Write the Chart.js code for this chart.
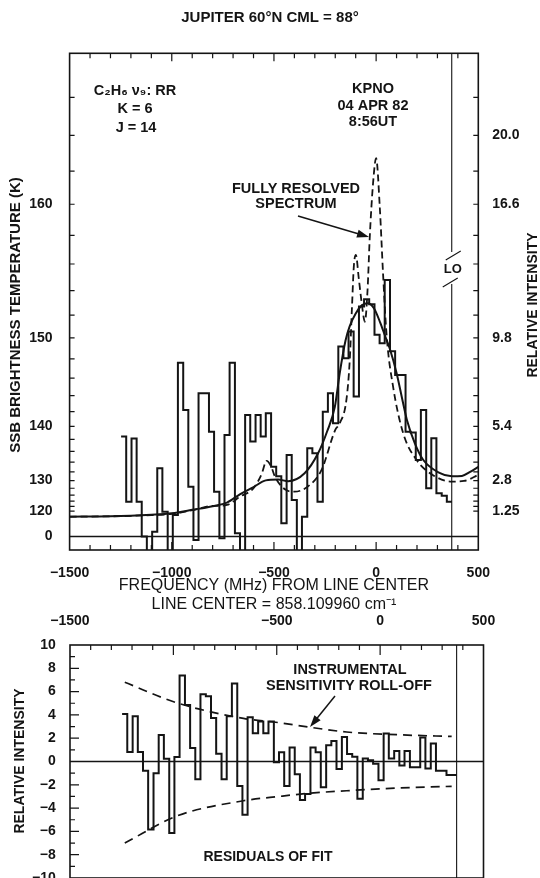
<!DOCTYPE html>
<html>
<head>
<meta charset="utf-8">
<script src="https://cdn.jsdelivr.net/npm/chart.js@4/dist/chart.umd.min.js"></script>
<style>
  html, body { margin: 0; padding: 0; background: #fff; width: 540px; height: 878px; overflow: hidden; }
  canvas { position: absolute; left: 0; }
  #spectrum { top: 0; }
  #residuals { top: 600px; }
</style>
</head>
<body>
<canvas id="spectrum" width="540" height="620"></canvas>
<canvas id="residuals" width="540" height="300"></canvas>
<script>
// filterbank channel edges (MHz from line center), last entry closes the last channel
var channelEdgesMHz = [-1248, -1223, -1197, -1172, -1147, -1122, -1096, -1071, -1046, -1020,
  -995, -970, -944, -919, -894, -869, -843, -818, -793, -767,
  -742, -717, -691, -666, -641, -616, -590, -565, -540, -514,
  -489, -464, -438, -413, -388, -363, -337, -312, -287, -261,
  -236, -211, -185, -160, -135, -110, -84, -59, -34, -8,
  17, 42, 68, 93, 118, 144, 169, 194, 219, 245,
  270, 295, 321, 346, 371];

// observed spectrum, relative intensity per channel
var observedI = [4.95, 1.72, 4.85, 1.72, 0.0, -1.5, 0.24, 3.38, 1.23, -1.5,
  1.07, 8.61, 6.27, 2.47, -0.17, 7.10, 7.10, 5.19, 2.22, -0.09,
  5.03, 8.61, 0.16, -1.5, 6.02, 4.70, 6.02, 4.95, 6.10, 3.46,
  2.98, 0.65, 4.04, 1.81, -1.5, 0.98, 4.37, 4.12, 1.72, 6.18,
  7.10, 5.61, 9.41, 8.83, 10.15, 6.93, 11.39, 11.75, 11.5, 9.99,
  9.57, 12.71, 9.18, 8.00, 8.00, 5.19, 5.15, 3.79, 6.27, 2.39,
  4.87, 2.14, 2.02, 1.72];

// residuals of fit per channel
var residualI = [4.08, 0.81, 3.88, 0.81, -0.79, -5.84, -1.0, 2.27, 0.23, -6.13,
  0.38, 7.38, 4.84, 1.16, -1.52, 5.77, 5.6, 3.73, 0.66, -1.52,
  3.88, 6.7, -2.1, -4.58, 3.79, 2.42, 3.44, 2.42, 3.44, -0.06,
  0.8, -2.1, 1.2, -1.1, -3.3, -2.8, 1.2, 0.8, -2.2, 1.4,
  1.75, -0.65, 2.1, 0.65, 0.4, -3.2, 0.25, 0.1, -0.2, -1.6,
  2.4, 0.25, 0.9, -0.35, 0.9, -0.5, -0.5, 2.05, -0.6, 1.55,
  -0.8, -0.8, -1.15, -1.15];

// model fit convolved with filters (solid)
var fitMHz = [-1500, -1300, -1100, -1000, -900, -800, -730, -665, -600, -540,
  -480, -430, -350, -284, -240, -202, -178, -150, -130, -100,
  -70, -40, -10, 20, 45, 67, 100, 130, 150, 190,
  230, 310, 370, 420, 460, 500];
var fitI = [0.98, 1.0, 1.08, 1.15, 1.32, 1.5, 1.68, 2.1, 2.45, 2.78,
  2.82, 2.74, 3.13, 4.12, 5.2, 6.43, 8.1, 9.7, 10.4, 11.05,
  11.45, 11.56, 11.3, 10.6, 9.9, 9.3, 8.1, 6.7, 5.8, 4.6,
  3.8, 3.15, 2.98, 3.0, 3.2, 3.45];

// fully resolved spectrum (dashed)
var resolvedMHz = [-1500, -1300, -1100, -1000, -900, -815, -780, -730, -667, -600,
  -560, -536, -515, -495, -440, -400, -335, -267, -200, -178,
  -145, -129, -118, -109, -99, -85, -71, -55, -42, -31,
  -15, 0, 18, 34, 51, 83, 132, 198, 277, 369,
  430, 500];
var resolvedI = [0.98, 1.0, 1.06, 1.12, 1.3, 1.5, 1.52, 1.56, 1.97, 2.39,
  3.1, 3.75, 3.5, 2.96, 2.3, 2.22, 2.47, 3.3, 5.28, 5.61,
  6.8, 8.75, 11.4, 13.4, 13.95, 12.8, 11.6, 10.64, 12.2, 14.86,
  17.5, 18.74, 16.3, 13.0, 10.0, 7.42, 5.13, 3.79, 3.05, 2.72,
  2.75, 3.05];

// instrumental sensitivity roll-off envelope
var rollOffMHz = [-1235, -984, -661, -484, -339, -162, 80, 346];
var rollOffUpper = [6.80, 5.04, 3.70, 3.32, 2.94, 2.53, 2.30, 2.15];
var rollOffLower = [-7.0, -4.68, -3.37, -2.99, -2.72, -2.51, -2.28, -2.13];

// brightness temperature ticks and their relative intensity
var tempTicksK = [120, 122, 124, 126, 128, 130, 132, 134, 136, 138, 140, 142,
  144, 146, 148, 150, 152, 154, 156, 158, 160, 162, 164, 166];
var tempTicksI = [1.26, 1.49, 1.75, 2.05, 2.39, 2.77, 3.20, 3.68, 4.22, 4.81, 5.46, 6.19,
  6.98, 7.85, 8.80, 9.84, 10.97, 12.18, 13.50, 14.92, 16.46, 18.10, 19.87, 21.76];
var leftLabelK = [120, 130, 140, 150, 160];
var rightLabelK = [120, 130, 140, 150, 160, 164];
var rightLabelText = ['1.25', '2.8', '5.4', '9.8', '16.6', '20.0'];

var freqTicks = [-1500, -1000, -500, 0, 500];
var freqTickLabels = ['\u22121500', '\u22121000', '\u2212500', '0', '500'];
var residFreqTicks = [-1500, -500, 0, 500];
var residFreqLabels = ['\u22121500', '\u2212500', '0', '500'];
var residTicks = [-10, -8, -6, -4, -2, 0, 2, 4, 6, 8, 10];

var loMHz = 370;

var ink = '#141414';
var family = "'Liberation Sans', Arial, sans-serif";
function bold(size) { return 'bold ' + size + 'px ' + family; }

Chart.defaults.font.family = family;
Chart.defaults.color = ink;

function pts(xs, ys) {
  return xs.map(function(v, i) { return {x: v, y: ys[Math.min(i, ys.length - 1)]}; });
}

function text(ctx, str, x, y, font) {
  ctx.font = font;
  ctx.textAlign = 'center';
  ctx.textBaseline = 'middle';
  ctx.fillText(str, x, y);
}

function vText(ctx, str, x, y, font) {
  ctx.save();
  ctx.translate(x, y);
  ctx.rotate(-Math.PI / 2);
  text(ctx, str, 0, 0, font);
  ctx.restore();
}

function arrow(ctx, x0, y0, x1, y1) {
  var ang = Math.atan2(y1 - y0, x1 - x0), L = 12, W = 4;
  ctx.lineWidth = 1.5;
  ctx.beginPath();
  ctx.moveTo(x0, y0);
  ctx.lineTo(x1 - L * Math.cos(ang) * 0.8, y1 - L * Math.sin(ang) * 0.8);
  ctx.stroke();
  ctx.beginPath();
  ctx.moveTo(x1, y1);
  ctx.lineTo(x1 - L * Math.cos(ang) + W * Math.sin(ang), y1 - L * Math.sin(ang) - W * Math.cos(ang));
  ctx.lineTo(x1 - L * Math.cos(ang) - W * Math.sin(ang), y1 - L * Math.sin(ang) + W * Math.cos(ang));
  ctx.closePath();
  ctx.fill();
}

var spectrumDecor = {
  id: 'spectrumDecor',
  afterDraw: function(chart) {
    var ctx = chart.ctx, a = chart.chartArea, x = chart.scales.x, y = chart.scales.y;
    ctx.save();
    ctx.strokeStyle = ink;
    ctx.fillStyle = ink;

    // inward tick marks
    ctx.lineWidth = 1.2;
    ctx.beginPath();
    for (var f = -1400; f <= 400; f += 100) {
      var px = x.getPixelForValue(f), len = f % 500 === 0 ? 8 : 5;
      ctx.moveTo(px, a.bottom); ctx.lineTo(px, a.bottom - len);
      ctx.moveTo(px, a.top); ctx.lineTo(px, a.top + len);
    }
    tempTicksI.forEach(function(v) {
      var py = y.getPixelForValue(v);
      ctx.moveTo(a.left, py); ctx.lineTo(a.left + 5, py);
      ctx.moveTo(a.right, py); ctx.lineTo(a.right - 5, py);
    });
    ctx.stroke();

    // frame
    ctx.lineWidth = 1.6;
    ctx.strokeRect(a.left, a.top, a.right - a.left, a.bottom - a.top);

    // LO marker, broken around its label
    var lx = x.getPixelForValue(loMHz);
    ctx.lineWidth = 1.1;
    ctx.beginPath();
    ctx.moveTo(lx, a.top); ctx.lineTo(lx, 252);
    ctx.moveTo(lx, 284); ctx.lineTo(lx, a.bottom);
    ctx.moveTo(lx - 6, 260); ctx.lineTo(lx + 9, 251);
    ctx.moveTo(lx - 9, 287); ctx.lineTo(lx + 6, 278);
    ctx.stroke();
    text(ctx, 'LO', lx + 1, 269, bold(13));

    // title and annotations
    text(ctx, 'JUPITER 60\u00b0N CML = 88\u00b0', 270, 18, bold(15));
    text(ctx, 'C\u2082H\u2086 \u03bd\u2089: RR', 135, 91, bold(14.5));
    text(ctx, 'K = 6', 135, 109, bold(14.5));
    text(ctx, 'J = 14', 136, 128, bold(14.5));
    text(ctx, 'KPNO', 373, 89, bold(14.5));
    text(ctx, '04 APR 82', 373, 106, bold(14.5));
    text(ctx, '8:56UT', 373, 122, bold(14.5));
    text(ctx, 'FULLY RESOLVED', 296, 189, bold(14.5));
    text(ctx, 'SPECTRUM', 296, 204, bold(14.5));
    arrow(ctx, 298, 216, 369, 237);

    // axis titles
    vText(ctx, 'SSB BRIGHTNESS TEMPERATURE (K)', 16, 315, bold(15));
    vText(ctx, 'RELATIVE INTENSITY', 533, 305, bold(14));
    ctx.restore();
  }
};

var residDecor = {
  id: 'residDecor',
  afterDraw: function(chart) {
    var ctx = chart.ctx, a = chart.chartArea, x = chart.scales.x, y = chart.scales.y;
    ctx.save();
    ctx.strokeStyle = ink;
    ctx.fillStyle = ink;

    ctx.lineWidth = 1.2;
    ctx.beginPath();
    for (var f = -1400; f <= 400; f += 100) {
      var px = x.getPixelForValue(f), len = f % 500 === 0 ? 10 : 5;
      ctx.moveTo(px, a.top); ctx.lineTo(px, a.top + len);
    }
    for (var r = -9; r <= 9; r++) {
      var py = y.getPixelForValue(r), l2 = r % 2 === 0 ? 9 : 5;
      ctx.moveTo(a.left, py); ctx.lineTo(a.left + l2, py);
    }
    ctx.stroke();

    ctx.lineWidth = 1.6;
    ctx.strokeRect(a.left, a.top, a.right - a.left, a.bottom - a.top);

    var lx = x.getPixelForValue(loMHz);
    ctx.lineWidth = 1.1;
    ctx.beginPath();
    ctx.moveTo(lx, a.top); ctx.lineTo(lx, a.bottom);
    ctx.stroke();

    text(ctx, 'INSTRUMENTAL', 350, 70, bold(14.5));
    text(ctx, 'SENSITIVITY ROLL-OFF', 349, 86, bold(14.5));
    arrow(ctx, 335, 96, 310, 127);
    text(ctx, 'RESIDUALS OF FIT', 268, 257, bold(14));
    vText(ctx, 'RELATIVE INTENSITY', 20, 161, bold(14));
    ctx.restore();
  }
};

var line = function(extra) {
  return Object.assign({borderColor: ink, borderWidth: 2, pointRadius: 0, fill: false}, extra);
};

new Chart(document.getElementById('spectrum'), {
  type: 'line',
  data: {
    datasets: [
      line({label: 'baseline', data: pts([-1500, 500], [0, 0]), borderWidth: 1.3}),
      line({label: 'fit', data: pts(fitMHz, fitI), cubicInterpolationMode: 'monotone'}),
      line({label: 'fully resolved', data: pts(resolvedMHz, resolvedI), cubicInterpolationMode: 'monotone',
            borderDash: [7, 4], borderWidth: 1.8}),
      line({label: 'observed', data: pts(channelEdgesMHz, observedI), stepped: 'before', borderWidth: 2})
    ]
  },
  options: {
    responsive: false,
    animation: false,
    layout: {padding: {top: 53.3, left: 0, right: 0, bottom: 0}},
    plugins: {legend: {display: false}, tooltip: {enabled: false}},
    scales: {
      x: {
        type: 'linear', min: -1500, max: 500,
        grid: {display: false}, border: {display: false},
        afterBuildTicks: function(s) { s.ticks = freqTicks.map(function(v) { return {value: v}; }); },
        afterFit: function(s) { s.height = 70; },
        ticks: {autoSkip: false, maxRotation: 0, padding: 6.6, font: {size: 14, weight: 'bold'},
                callback: function(v, i) { return freqTickLabels[i]; }},
        title: {display: true, text: ['FREQUENCY (MHz) FROM LINE CENTER', 'LINE CENTER = 858.109960 cm\u207b\u00b9'],
                font: {size: 16}, padding: {top: 0, bottom: 6}}
      },
      y: {
        position: 'left', min: -0.67, max: 23.94,
        grid: {display: false}, border: {display: false},
        afterBuildTicks: function(s) {
          s.ticks = [{value: 0}].concat(tempTicksI.map(function(v) { return {value: v}; }));
        },
        afterFit: function(s) { s.width = 69.6; },
        ticks: {autoSkip: false, padding: 9, font: {size: 14, weight: 'bold'},
                callback: function(v, i) {
                  if (i === 0) return '0';
                  var k = tempTicksK[i - 1];
                  return leftLabelK.indexOf(k) >= 0 ? String(k) : '';
                }}
      },
      y2: {
        position: 'right', min: -0.67, max: 23.94,
        grid: {display: false}, border: {display: false},
        afterBuildTicks: function(s) { s.ticks = tempTicksI.map(function(v) { return {value: v}; }); },
        afterFit: function(s) { s.width = 61.7; },
        ticks: {autoSkip: false, padding: 6, font: {size: 14, weight: 'bold'},
                callback: function(v, i) {
                  var j = rightLabelK.indexOf(tempTicksK[i]);
                  return j >= 0 ? rightLabelText[j] : '';
                }}
      }
    }
  },
  plugins: [spectrumDecor]
});

new Chart(document.getElementById('residuals'), {
  type: 'line',
  data: {
    datasets: [
      line({label: 'zero', data: pts([-1500, 500], [0, 0]), borderWidth: 1.3}),
      line({label: 'roll-off +', data: pts(rollOffMHz, rollOffUpper), cubicInterpolationMode: 'monotone',
            borderDash: [9, 6], borderWidth: 1.7}),
      line({label: 'roll-off -', data: pts(rollOffMHz, rollOffLower), cubicInterpolationMode: 'monotone',
            borderDash: [9, 6], borderWidth: 1.7}),
      line({label: 'residuals', data: pts(channelEdgesMHz, residualI), stepped: 'before', borderWidth: 2})
    ]
  },
  options: {
    responsive: false,
    animation: false,
    layout: {padding: {top: 0, left: 0, right: 56.5, bottom: 22}},
    plugins: {legend: {display: false}, tooltip: {enabled: false}},
    scales: {
      x: {
        type: 'linear', position: 'top', min: -1500, max: 500,
        grid: {display: false}, border: {display: false},
        afterBuildTicks: function(s) { s.ticks = residFreqTicks.map(function(v) { return {value: v}; }); },
        afterFit: function(s) { s.height = 45; },
        ticks: {autoSkip: false, maxRotation: 0, padding: 7.6, font: {size: 14, weight: 'bold'},
                callback: function(v, i) { return residFreqLabels[i]; }}
      },
      y: {
        position: 'left', min: -10, max: 10,
        grid: {display: false}, border: {display: false},
        afterBuildTicks: function(s) { s.ticks = residTicks.map(function(v) { return {value: v}; }); },
        afterFit: function(s) { s.width = 70; },
        ticks: {autoSkip: false, padding: 6.3, font: {size: 14, weight: 'bold'},
                callback: function(v) { return v < 0 ? '\u2212' + Math.abs(v) : String(v); }}
      }
    }
  },
  plugins: [residDecor]
});
</script>
</body>
</html>
